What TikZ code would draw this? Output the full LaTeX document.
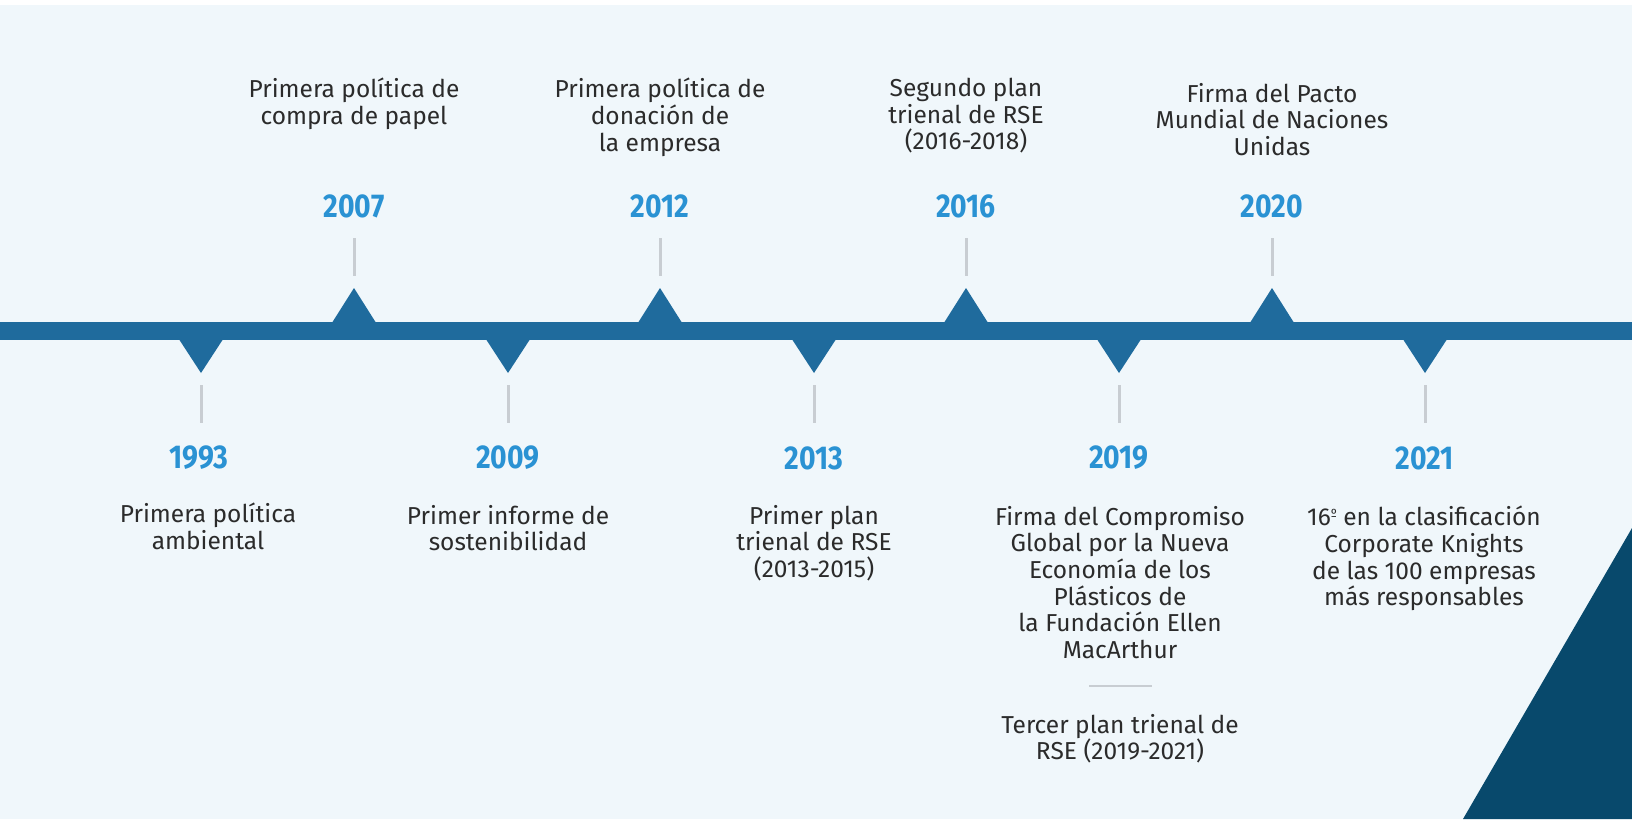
\documentclass[tikz,border=0pt]{standalone}
\usepackage{fontspec}
\setmainfont{Fira Sans}
\newfontfamily\yearfont[FakeStretch=0.86]{Fira Sans}
\definecolor{bgblue}{HTML}{F0F7FB}
\definecolor{barblue}{HTML}{1F6B9D}
\definecolor{yearblue}{HTML}{2A92D3}
\definecolor{tickgray}{HTML}{C8CDD2}
\definecolor{textgray}{HTML}{2B2B2B}
\definecolor{navy}{HTML}{08496C}
\begin{document}
\begin{tikzpicture}[x=1pt,y=-1pt,
  year/.style={text=yearblue,font=\yearfont\bfseries\fontsize{33}{36}\selectfont,inner sep=0pt},
  event/.style={text=textgray,font=\fontsize{24.5}{26.6}\selectfont,align=center,inner sep=0pt,anchor=north},
  tick/.style={draw=tickgray,line width=3pt},
  rule/.style={draw=tickgray,line width=2.5pt},
  marker/.style={fill=barblue}]
\useasboundingbox (0,0) rectangle (1632,819);
\fill[white] (0,0) rectangle (1632,5);
\fill[bgblue] (0,5) rectangle (1632,819);
\fill[navy] (1632,528) -- (1632,819) -- (1463,819) -- cycle;

% time line
\fill[barblue] (0,322) rectangle (1632,340);

% markers below the line
\fill[marker] (179.5,340) -- (222.5,340) -- (201,373) -- cycle;
\fill[marker] (486.5,340) -- (529.5,340) -- (508,373) -- cycle;
\fill[marker] (792.5,340) -- (835.5,340) -- (814,373) -- cycle;
\fill[marker] (1097.5,340) -- (1140.5,340) -- (1119,373) -- cycle;
\fill[marker] (1403.5,340) -- (1446.5,340) -- (1425,373) -- cycle;
% markers above the line
\fill[marker] (332.5,322) -- (375.5,322) -- (354,288) -- cycle;
\fill[marker] (638.5,322) -- (681.5,322) -- (660,288) -- cycle;
\fill[marker] (944.5,322) -- (987.5,322) -- (966,288) -- cycle;
\fill[marker] (1250.5,322) -- (1293.5,322) -- (1272,288) -- cycle;

% ticks
\draw[tick] (201,385) -- (201,423);
\draw[tick] (508,385) -- (508,423);
\draw[tick] (814,385) -- (814,423);
\draw[tick] (1119,385) -- (1119,423);
\draw[tick] (1425,385) -- (1425,423);
\draw[tick] (354,238) -- (354,276);
\draw[tick] (660,238) -- (660,276);
\draw[tick] (966,238) -- (966,276);
\draw[tick] (1272,238) -- (1272,276);

% years
\node[year] (y1993) at (199,458) {1993};
\node[year] (y2007) at (354,206) {2007};
\node[year] (y2009) at (508,458) {2009};
\node[year] (y2012) at (660,206) {2012};
\node[year] (y2013) at (814,458) {2013};
\node[year] (y2016) at (966,206) {2016};
\node[year] (y2019) at (1119,458) {2019};
\node[year] (y2020) at (1272,206) {2020};
\node[year] (y2021) at (1425,458) {2021};

% events
\node[event] (e2007) at (354,78) {Primera política de\\compra de papel};
\node[event] (e2012) at (660,78) {Primera política de\\donación de\\la empresa};
\node[event] (e2016) at (966,78) {Segundo plan\\trienal de RSE\\(2016-2018)};
\node[event] (e2020) at (1272,83) {Firma del Pacto\\Mundial de Naciones\\Unidas};
\node[event] (e1993) at (208,503) {Primera política\\ambiental};
\node[event] (e2009) at (508,505) {Primer informe de\\sostenibilidad};
\node[event] (e2013) at (814,505) {Primer plan\\trienal de RSE\\(2013-2015)};
\node[event] (e2019) at (1120,506) {Firma del Compromiso\\Global por la Nueva\\Economía de los\\Plásticos de\\la Fundación Ellen\\MacArthur};
\draw[rule] (1089,686) -- (1152,686);
\node[event] (e2019b) at (1120,714) {Tercer plan trienal de\\RSE (2019-2021)};
\node[event] (e2021) at (1424,506) {16\raisebox{0.35em}{\fontsize{12}{12}\selectfont º} en la clasificación\\Corporate Knights\\de las 100 empresas\\más responsables};
\end{tikzpicture}
\end{document}
